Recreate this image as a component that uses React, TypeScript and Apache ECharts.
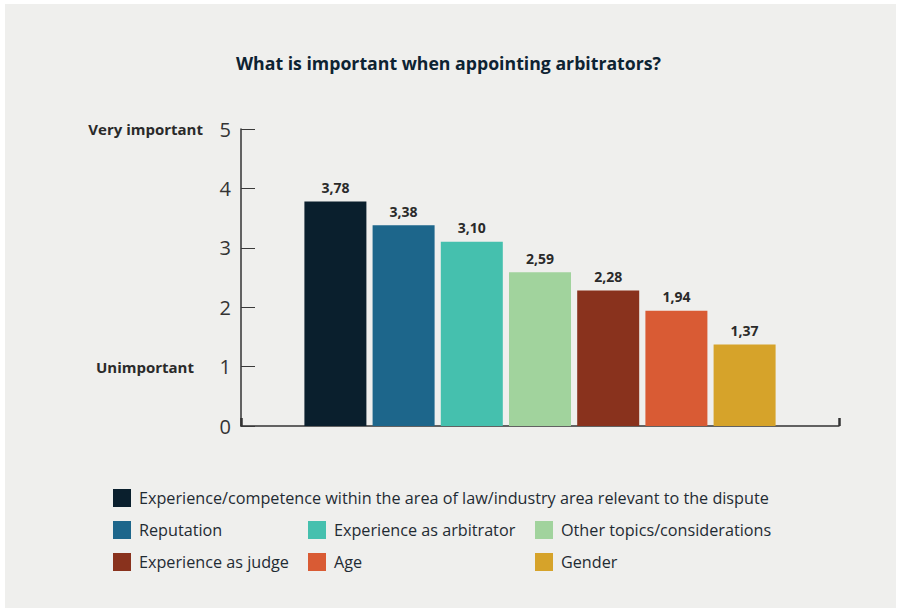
import React, { useEffect, useRef } from "react";
import * as echarts from "echarts";

const titleText = "What is important when appointing arbitrators?";
const seriesNames = [
  "Experience/competence within the area of law/industry area relevant to the dispute",
  "Reputation",
  "Experience as arbitrator",
  "Other topics/considerations",
  "Experience as judge",
  "Age",
  "Gender",
];
const seriesValues = [3.78, 3.38, 3.1, 2.59, 2.28, 1.94, 1.37];
const seriesColors = ["#0a1f2d", "#1d668b", "#45c0ae", "#a1d39d", "#89321d", "#d95b34", "#d6a32a"];
const yTopLabel = "Very important";
const yLowLabel = "Unimportant";

const FONT = "'Open Sans', sans-serif";

export default function App() {
  const ref = useRef<HTMLDivElement>(null);
  useEffect(() => {
    document.body.style.margin = "0";
    const chart = echarts.init(ref.current!, null, { renderer: "svg" });
    const fmt = (v: number) => v.toFixed(2).replace(".", ",");
    const legendText = { fontFamily: FONT, fontSize: 16.2, color: "#1f2b33", padding: [0, 0, 0, 3] };
    chart.setOption({
      animation: false,
      backgroundColor: "#ffffff",
      textStyle: { fontFamily: FONT },
      graphic: [
        {
          type: "rect",
          z: -10,
          shape: { x: 5, y: 4, width: 891, height: 604 },
          style: { fill: "#efefed" },
        },
      ],
      title: {
        text: titleText,
        left: "center",
        top: 49,
        textStyle: { fontFamily: FONT, fontSize: 17.7, fontWeight: "bold", color: "#0d2332" },
      },
      legend: [
        {
          data: [seriesNames[0], seriesNames[1], seriesNames[4]],
          orient: "vertical",
          left: 113,
          top: 489,
          padding: 0,
          itemWidth: 18,
          itemHeight: 18,
          itemGap: 14,
          icon: "rect",
          textStyle: legendText,
        },
        {
          data: [seriesNames[2], seriesNames[5]],
          orient: "vertical",
          left: 308,
          top: 521,
          padding: 0,
          itemWidth: 18,
          itemHeight: 18,
          itemGap: 14,
          icon: "rect",
          textStyle: legendText,
        },
        {
          data: [seriesNames[3], seriesNames[6]],
          orient: "vertical",
          left: 535,
          top: 521,
          padding: 0,
          itemWidth: 18,
          itemHeight: 18,
          itemGap: 14,
          icon: "rect",
          textStyle: legendText,
        },
      ],
      grid: { left: 241, right: 58, top: 129, bottom: 183, containLabel: false },
      xAxis: {
        type: "category",
        data: [""],
        axisLine: { show: true, lineStyle: { color: "#333333", width: 1.5 } },
        axisTick: { show: true, inside: true, length: 8, lineStyle: { color: "#333333", width: 2.5 } },
        axisLabel: { show: false },
        splitLine: { show: false },
      },
      yAxis: {
        type: "value",
        min: 0,
        max: 5,
        interval: 1,
        axisLine: { show: true, lineStyle: { color: "#333333", width: 1.5 } },
        axisTick: { show: true, inside: true, length: 14, lineStyle: { color: "#3a3a3a", width: 1 } },
        splitLine: { show: false },
        axisLabel: {
          margin: 10,
          formatter: (v: number) => {
            if (v === 5) return `{lab|${yTopLabel}}{num5|5}`;
            if (v === 1) return `{lab|${yLowLabel}}{num1|1}`;
            return `{num|${v}}`;
          },
          rich: {
            lab: { fontFamily: FONT, fontSize: 15, fontWeight: "bold", color: "#2a2a2a" },
            num: { fontFamily: FONT, fontSize: 20, fontWeight: "normal", color: "#333333" },
            num5: { fontFamily: FONT, fontSize: 20, fontWeight: "normal", color: "#333333", width: 28, align: "right" },
            num1: { fontFamily: FONT, fontSize: 20, fontWeight: "normal", color: "#333333", width: 37, align: "right" },
          },
        },
      },
      series: seriesNames.map((name, i) => ({
        name,
        type: "bar",
        data: [seriesValues[i]],
        barWidth: 62,
        barGap: "10%",
        itemStyle: { color: seriesColors[i] },
        label: {
          show: true,
          position: "top",
          distance: 7,
          formatter: (p: any) => fmt(p.value),
          fontFamily: FONT,
          fontSize: 14,
          fontWeight: "bold",
          color: "#2a2a2a",
        },
      })),
    });
    return () => chart.dispose();
  }, []);
  return <div ref={ref} style={{ position: "absolute", left: 0, top: 0, width: 897, height: 609 }} />;
}
